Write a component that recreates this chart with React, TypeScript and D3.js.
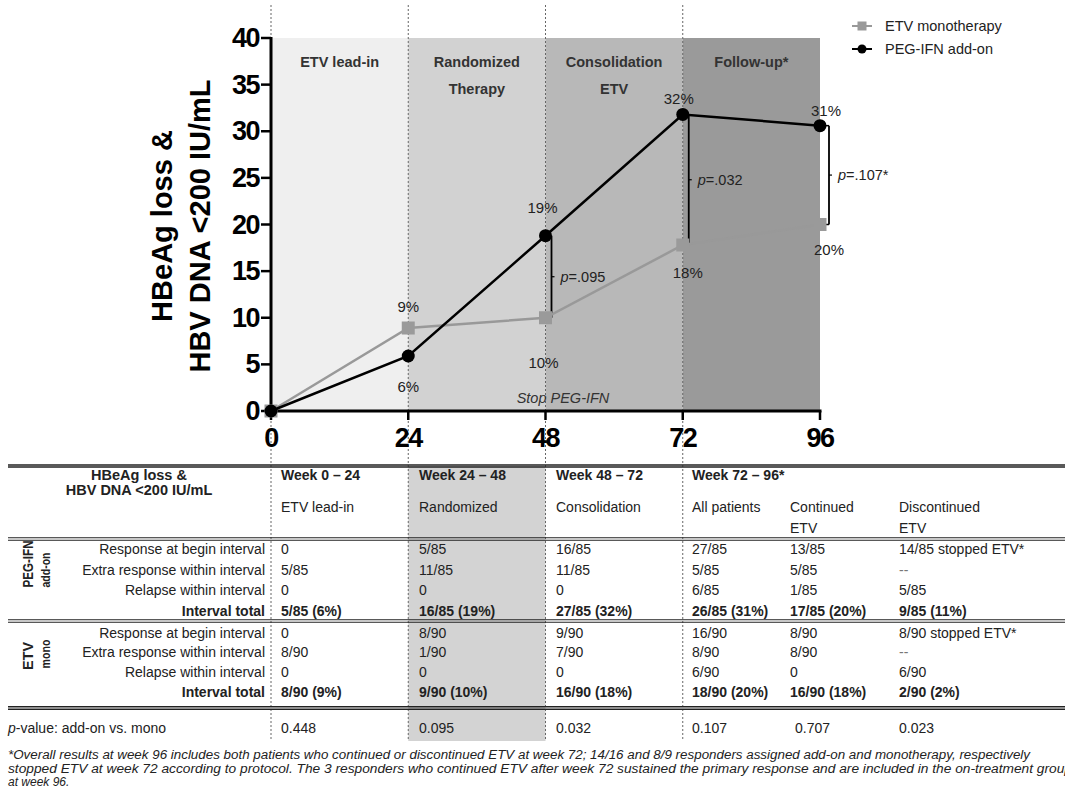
import React from 'react';
import * as d3 from 'd3';

// chart data
const weeks = [0, 24, 48, 72, 96];
const etvMono = [0, 8.9, 10, 17.8, 20];
const pegAddOn = [0, 5.9, 18.8, 31.8, 30.6];
const etvLabels = ['', '9%', '10%', '18%', '20%'];
const pegLabels = ['', '6%', '19%', '32%', '31%'];
const yTicks = [0, 5, 10, 15, 20, 25, 30, 35, 40];
const phases = [
  { from: 0, to: 24, lines: ['ETV lead-in'] },
  { from: 24, to: 48, lines: ['Randomized', 'Therapy'] },
  { from: 48, to: 72, lines: ['Consolidation', 'ETV'] },
  { from: 72, to: 96, lines: ['Follow-up*'] },
];
const pTests = [
  { week: 48, text: '.095' },
  { week: 72, text: '.032' },
  { week: 96, text: '.107*' },
];

// table data
const colHeaders = ['Week 0 – 24', 'Week 24 – 48', 'Week 48 – 72', 'Week 72 – 96*'];
const subHeaders = [['ETV lead-in'], ['Randomized'], ['Consolidation'], ['All patients'], ['Continued', 'ETV'], ['Discontinued', 'ETV']];
const rowLabels = ['Response at begin interval', 'Extra response within interval', 'Relapse within interval', 'Interval total'];
const pegRows = [
  ['0', '5/85', '16/85', '27/85', '13/85', '14/85 stopped ETV*'],
  ['5/85', '11/85', '11/85', '5/85', '5/85', '--'],
  ['0', '0', '0', '6/85', '1/85', '5/85'],
  ['5/85 (6%)', '16/85 (19%)', '27/85 (32%)', '26/85 (31%)', '17/85 (20%)', '9/85 (11%)'],
];
const etvRows = [
  ['0', '8/90', '9/90', '16/90', '8/90', '8/90 stopped ETV*'],
  ['8/90', '1/90', '7/90', '8/90', '8/90', '--'],
  ['0', '0', '0', '6/90', '0', '6/90'],
  ['8/90 (9%)', '9/90 (10%)', '16/90 (18%)', '18/90 (20%)', '16/90 (18%)', '2/90 (2%)'],
];
const pValues = ['0.448', '0.095', '0.032', '0.107', '0.707', '0.023'];
const footnote = [
  '*Overall results at week 96 includes both patients who continued or discontinued ETV at week 72; 14/16 and 8/9 responders assigned add-on and monotherapy, respectively',
  'stopped ETV at week 72 according to protocol. The 3 responders who continued ETV after week 72 sustained the primary response and are included in the on-treatment group',
  'at week 96.',
];

const FONT = '"Liberation Sans", Arial, Helvetica, sans-serif';
const phaseFill = ['#efefef', '#d2d2d2', '#b8b8b8', '#9a9a9a'];
// label offsets [dx, dy] from marker
const etvLabelPos = [[0, 0], [0, -22], [-2, 45], [5, 27], [9, 25]];
const pegLabelPos = [[0, 0], [0, 31], [-3, -28], [-4, -16], [6, -15]];

export default function App() {
  const x = d3.scaleLinear().domain([0, 96]).range([271, 820]);
  const y = d3.scaleLinear().domain([0, 40]).range([411, 38]);
  const line = d3.line<number>().x((_, i) => x(weeks[i])).y(d => y(d));

  const colX = [281, 419, 556, 692, 790, 899];
  const tableTop = 466;
  const tableBottom = 741;
  const pegY = [549, 570, 590, 611];
  const etvY = [633, 652, 672, 692];
  const FS = 14;

  const doubleLine = (yy: number, gap = 2.5, w = 1.2) => (
    <g key={'dl' + yy}>
      <line x1={8} x2={1065} y1={yy - gap / 2} y2={yy - gap / 2} stroke="#222" strokeWidth={w} />
      <line x1={8} x2={1065} y1={yy + gap / 2} y2={yy + gap / 2} stroke="#222" strokeWidth={w} />
    </g>
  );

  const cellRow = (vals: string[], yy: number, bold: boolean, key: string) =>
    vals.map((v, i) => (
      <text key={key + i} x={colX[i]} y={yy} dominantBaseline="central" fontSize={FS}
        fontWeight={bold ? 'bold' : 'normal'} fill={v === '--' ? '#777' : '#222'}>{v}</text>
    ));

  return (
    <svg width={1065} height={796} style={{ position: 'absolute', left: 0, top: 0, fontFamily: FONT }}>
      <rect width={1065} height={796} fill="#fff" />

      {/* phase backgrounds */}
      {phases.map((p, i) => (
        <rect key={'ph' + i} x={x(p.from)} y={y(40)} width={x(p.to) - x(p.from)} height={y(0) - y(40)} fill={phaseFill[i]} />
      ))}
      {/* table grey column */}
      <rect x={x(24)} y={tableTop} width={x(48) - x(24)} height={tableBottom - tableTop} fill="#d3d3d3" />

      {/* dotted separators */}
      {[0, 24, 48, 72].map(w => (
        <line key={'dot' + w} x1={x(w)} x2={x(w)} y1={5} y2={tableBottom} stroke="#666" strokeWidth={1} strokeDasharray="2,2" />
      ))}

      {/* phase titles */}
      {phases.map((p, i) => p.lines.map((t, j) => (
        <text key={'pt' + i + j} x={(x(p.from) + x(p.to)) / 2} y={62 + j * 27} textAnchor="middle" dominantBaseline="central"
          fontSize={14.5} fontWeight="bold" fill="#333">{t}</text>
      )))}
      <text x={563} y={398} textAnchor="middle" dominantBaseline="central" fontSize={14.5} fontStyle="italic" fill="#333">Stop PEG-IFN</text>

      {/* axes */}
      <line x1={x(0)} x2={x(0)} y1={y(40) - 1} y2={y(0) + 1.5} stroke="#000" strokeWidth={3} />
      <line x1={x(0) - 1.5} x2={x(96) + 1.5} y1={y(0)} y2={y(0)} stroke="#000" strokeWidth={3} />
      {yTicks.map(t => (
        <g key={'yt' + t}>
          <line x1={x(0) - 10} x2={x(0)} y1={y(t)} y2={y(t)} stroke="#000" strokeWidth={2.5} />
          <text x={x(0) - 12} y={y(t)} textAnchor="end" dominantBaseline="central" fontSize={27} fontWeight="bold" letterSpacing={-1.5}>{t}</text>
        </g>
      ))}
      {weeks.map(w => (
        <g key={'xt' + w}>
          <line x1={x(w)} x2={x(w)} y1={y(0)} y2={y(0) + 9} stroke="#000" strokeWidth={2.5} />
          <text x={x(w)} y={438} textAnchor="middle" dominantBaseline="central" fontSize={27} fontWeight="bold" letterSpacing={-1.5}>{w}</text>
        </g>
      ))}
      <text transform="translate(181,226) rotate(-90)" textAnchor="middle" dominantBaseline="central" fontSize={29} fontWeight="bold">
        <tspan x={0} dy={-19}>HBeAg loss &amp;</tspan>
        <tspan x={0} dy={38}>HBV DNA &lt;200 IU/mL</tspan>
      </text>

      {/* p-value brackets */}
      {pTests.map((p, i) => {
        const top = y(pegAddOn[weeks.indexOf(p.week)]);
        const bot = y(etvMono[weeks.indexOf(p.week)]);
        const bx = x(p.week) + (p.week === 96 ? 9 : 6);
        const mid = (top + bot) / 2;
        return (
          <g key={'pb' + i}>
            {p.week === 96 && <line x1={x(96)} x2={bx} y1={top} y2={top} stroke="#000" strokeWidth={1.5} />}
            {p.week === 96 && <line x1={x(96)} x2={bx} y1={bot} y2={bot} stroke="#000" strokeWidth={1.5} />}
            <line x1={bx} x2={bx} y1={top} y2={bot} stroke="#000" strokeWidth={1.8} />
            <line x1={bx} x2={bx + 3} y1={mid} y2={mid} stroke="#000" strokeWidth={1.2} />
            <text x={bx + 9} y={mid} dominantBaseline="central" fontSize={14.5} fill="#222">
              <tspan fontStyle="italic">p</tspan>={p.text}
            </text>
          </g>
        );
      })}

      {/* series */}
      <path d={line(etvMono) || ''} fill="none" stroke="#999" strokeWidth={2.5} />
      {etvMono.map((v, i) => (
        <rect key={'sq' + i} x={x(weeks[i]) - 6.5} y={y(v) - 6.5} width={13} height={13} fill="#9a9a9a" />
      ))}
      <path d={line(pegAddOn) || ''} fill="none" stroke="#000" strokeWidth={2.5} />
      {pegAddOn.map((v, i) => (
        <circle key={'ci' + i} cx={x(weeks[i])} cy={y(v)} r={6.5} fill="#000" />
      ))}
      {etvLabels.map((t, i) => t && (
        <text key={'el' + i} x={x(weeks[i]) + etvLabelPos[i][0]} y={y(etvMono[i]) + etvLabelPos[i][1]} textAnchor="middle"
          dominantBaseline="central" fontSize={15} fill="#222">{t}</text>
      ))}
      {pegLabels.map((t, i) => t && (
        <text key={'pl' + i} x={x(weeks[i]) + pegLabelPos[i][0]} y={y(pegAddOn[i]) + pegLabelPos[i][1]} textAnchor="middle"
          dominantBaseline="central" fontSize={15} fill="#222">{t}</text>
      ))}

      {/* legend */}
      <g>
        <line x1={852} x2={872} y1={26} y2={26} stroke="#999" strokeWidth={2} />
        <rect x={857.5} y={21.5} width={9} height={9} fill="#9a9a9a" />
        <text x={885} y={26} dominantBaseline="central" fontSize={14.5} fill="#222">ETV monotherapy</text>
        <line x1={852} x2={872} y1={49} y2={49} stroke="#000" strokeWidth={2} />
        <circle cx={862} cy={49} r={4.5} fill="#000" />
        <text x={885} y={49} dominantBaseline="central" fontSize={14.5} fill="#222">PEG-IFN add-on</text>
      </g>

      {/* table */}
      {doubleLine(tableTop, 2, 1.4)}
      {doubleLine(539)}
      {doubleLine(621)}
      {doubleLine(708, 2.5, 1.5)}

      <text x={139} y={475} textAnchor="middle" dominantBaseline="central" fontSize={14.5} fontWeight="bold" fill="#222">HBeAg loss &amp;</text>
      <text x={139} y={490} textAnchor="middle" dominantBaseline="central" fontSize={14.5} fontWeight="bold" fill="#222">HBV DNA &lt;200 IU/mL</text>
      {colHeaders.map((h, i) => (
        <text key={'ch' + i} x={colX[i]} y={475} dominantBaseline="central" fontSize={FS} fontWeight="bold" fill="#222">{h}</text>
      ))}
      {subHeaders.map((s, i) => s.map((t, j) => (
        <text key={'sh' + i + j} x={colX[i]} y={507 + j * 21} dominantBaseline="central" fontSize={FS} fill="#222">{t}</text>
      )))}

      {rowLabels.map((r, i) => (
        <g key={'rl' + i}>
          <text x={265} y={pegY[i]} textAnchor="end" dominantBaseline="central" fontSize={FS} fontWeight={i === 3 ? 'bold' : 'normal'} fill="#222">{r}</text>
          <text x={265} y={etvY[i]} textAnchor="end" dominantBaseline="central" fontSize={FS} fontWeight={i === 3 ? 'bold' : 'normal'} fill="#222">{r}</text>
        </g>
      ))}
      {pegRows.map((row, i) => cellRow(row, pegY[i], i === 3, 'pr' + i))}
      {etvRows.map((row, i) => cellRow(row, etvY[i], i === 3, 'er' + i))}

      <text transform="translate(27,564) rotate(-90)" textAnchor="middle" dominantBaseline="central" fontSize={15} fontWeight="bold" fill="#222"
        textLength={47} lengthAdjust="spacingAndGlyphs">PEG-IFN</text>
      <text transform="translate(45,570) rotate(-90)" textAnchor="middle" dominantBaseline="central" fontSize={13.5} fontWeight="bold" fill="#222"
        textLength={35} lengthAdjust="spacingAndGlyphs">add-on</text>
      <text transform="translate(27,656) rotate(-90)" textAnchor="middle" dominantBaseline="central" fontSize={15} fontWeight="bold" fill="#222"
        textLength={28} lengthAdjust="spacingAndGlyphs">ETV</text>
      <text transform="translate(45,654) rotate(-90)" textAnchor="middle" dominantBaseline="central" fontSize={13} fontWeight="bold" fill="#222"
        textLength={29} lengthAdjust="spacingAndGlyphs">mono</text>

      <text x={8} y={728} dominantBaseline="central" fontSize={FS} fill="#222"><tspan fontStyle="italic">p</tspan>-value: add-on vs. mono</text>
      {pValues.map((v, i) => (
        <text key={'pv' + i} x={colX[i] + (i === 4 ? 5 : 0)} y={728} dominantBaseline="central" fontSize={FS} fill="#222">{v}</text>
      ))}

      {footnote.map((t, i) => (
        <text key={'fn' + i} x={8} y={755 + i * 13.5} dominantBaseline="central" fontSize={12} fontStyle="italic" fill="#222"
          textLength={i === 0 ? 1022 : i === 1 ? 1064 : undefined} lengthAdjust="spacingAndGlyphs">{t}</text>
      ))}
    </svg>
  );
}
